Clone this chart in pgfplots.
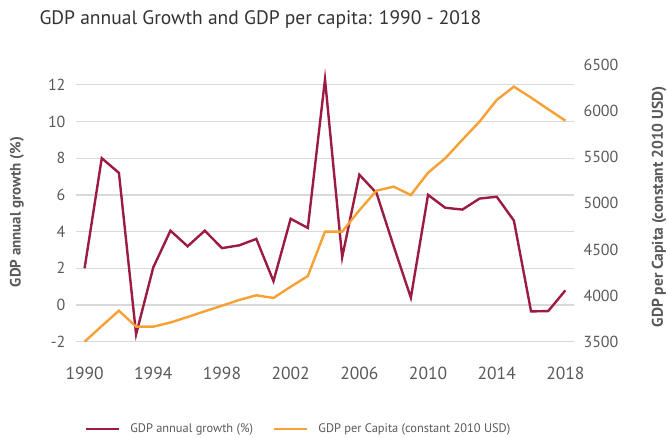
\documentclass[border=0pt]{standalone}
\usepackage{pgfplots}
\pgfplotsset{compat=1.18}
\usepackage{fontspec}
\setmainfont{PT Sans}
\definecolor{growth}{HTML}{9B1B42}
\definecolor{pc}{HTML}{F7A033}
\definecolor{txt}{HTML}{595959}
\definecolor{ttl}{HTML}{333333}
\definecolor{grd}{HTML}{D9D9D9}
\pgfplotstableread{
year g
1990 2.0
1991 8.0
1992 7.2
1993 -1.6
1994 2.05
1995 4.05
1996 3.2
1997 4.05
1998 3.1
1999 3.25
2000 3.6
2001 1.3
2002 4.7
2003 4.2
2004 12.3
2005 2.6
2006 7.1
2007 6.1
2008 3.2
2009 0.4
2010 6.0
2011 5.3
2012 5.2
2013 5.8
2014 5.9
2015 4.6
2016 -0.35
2017 -0.33
2018 0.8
}\growthtab
\pgfplotstableread{
year p
1990 3500
1991 3670
1992 3836
1993 3663
1994 3663
1995 3708
1996 3768
1997 3830
1998 3890
1999 3952
2000 4003
2001 3974
2002 4096
2003 4212
2004 4693
2005 4693
2006 4925
2007 5138
2008 5181
2009 5090
2010 5332
2011 5488
2012 5690
2013 5886
2014 6121
2015 6265
2016 6146
2017 6020
2018 5896
}\pctab
\begin{document}
\begin{tikzpicture}
\path[use as bounding box] (0pt,0pt) rectangle (667pt,438pt);
\pgfplotsset{
  base/.style={
    at={(76pt,96.3pt)}, anchor=south west,
    width=498pt, height=276.7pt, scale only axis,
    xmin=1989.5, xmax=2018.5,
    axis line style={draw=none}, tick style={draw=none},
    /pgf/number format/assume math mode=true,
    /pgf/number format/1000 sep={},
    yticklabel style={font=\fontsize{16}{19}\selectfont, text=txt},
    xticklabel style={font=\fontsize{17.5}{20}\selectfont, text=txt},
  }
}
\begin{axis}[base,
  ymin=-2, ymax=13.08,
  ytick={-2,0,...,12},
  xtick={1990,1994,...,2018},
  ymajorgrids, grid style={grd, line width=1.2pt},
  yticklabel style={xshift=-7pt},
  xticklabel style={yshift=-22pt},
]
\addplot[growth, line width=2.4pt, no markers] table[x=year,y=g] {\growthtab};
\end{axis}
\begin{axis}[base,
  axis x line=none, axis y line*=right,
  ymin=3500, ymax=6500,
  ytick={3500,4000,...,6500},
  yticklabel style={xshift=6pt},
  legend style={at={(0.447,-0.3155)}, anchor=center, draw=none, fill=none,
    legend columns=2, font=\fontsize{12.4}{15}\selectfont, text=txt,
    /tikz/every odd column/.append style={column sep=8pt},
    /tikz/every even column/.append style={column sep=18pt}},
  legend image code/.code={\draw[#1] (0pt,0pt) -- (33pt,0pt);},
]
\addlegendimage{growth, line width=2.4pt}
\addlegendentry{GDP annual growth (\%)}
\addplot[pc, line width=2.4pt, no markers] table[x=year,y=p] {\pctab};
\addlegendentry{GDP per Capita (constant 2010 USD)}
\end{axis}
\node[anchor=west, text=ttl, font=\fontsize{19.5}{23}\selectfont] at (36pt,418pt) {GDP annual Growth and GDP per capita: 1990 - 2018};
\node[rotate=90, text=txt, font=\fontsize{15}{18}\selectfont\bfseries] at (17pt,226pt) {GDP annual growth (\%)};
\node[rotate=90, text=txt, font=\fontsize{15.5}{18}\selectfont\bfseries] at (659pt,231pt) {GDP per Capita (constant 2010 USD)};
\end{tikzpicture}
\end{document}
